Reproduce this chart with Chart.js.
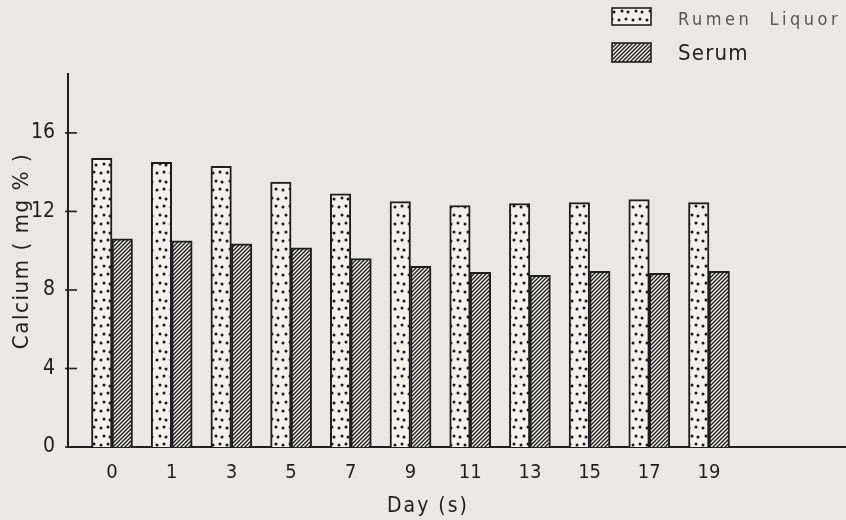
<!DOCTYPE html>
<html>
<head>
<meta charset="utf-8">
<script src="https://cdn.jsdelivr.net/npm/chart.js@4.4.1/dist/chart.umd.min.js"></script>
<style>
  html, body { margin: 0; padding: 0; background: #e9e8e4; }
  #wrap { width: 846px; height: 520px; position: relative; }
</style>
</head>
<body>
<div id="wrap"><canvas id="calciumChart"></canvas></div>
<script>
// Calcium in rumen liquor and serum by day
const days = ['0', '1', '3', '5', '7', '9', '11', '13', '15', '17', '19'];
const rumenLiquor = [14.7, 14.5, 14.3, 13.5, 12.9, 12.5, 12.3, 12.4, 12.45, 12.6, 12.45];
const serum = [10.6, 10.5, 10.35, 10.15, 9.6, 9.2, 8.9, 8.75, 8.95, 8.85, 8.95];
const yTicks = [0, 4, 8, 12, 16];
const xTitle = 'Day (s)';
const yTitle = 'Calcium ( mg % )';

const FONT = "'Liberation Sans Narrow', 'DejaVu Sans Condensed', 'DejaVu Sans', sans-serif";
const INK = '#1e1e1e';

// dotted fill for rumen liquor
function makeDots() {
    const c = document.createElement('canvas');
    c.width = 14; c.height = 17;
    const g = c.getContext('2d');
    g.fillStyle = '#f1f0ec';
    g.fillRect(0, 0, 14, 17);
    g.fillStyle = '#151515';
    [[3, 3], [10, 2], [6, 11], [12, 12]].forEach(([x, y]) => {
        g.beginPath();
        g.arc(x, y, 1.5, 0, Math.PI * 2);
        g.fill();
    });
    return g.createPattern(c, 'repeat');
}

// diagonal hatch for serum
function makeHatch() {
    const s = 4;
    const c = document.createElement('canvas');
    c.width = s; c.height = s;
    const g = c.getContext('2d');
    g.fillStyle = '#ecebe7';
    g.fillRect(0, 0, s, s);
    g.strokeStyle = '#1c1c1c';
    g.lineWidth = 1.3;
    g.beginPath();
    g.moveTo(-1, s + 1); g.lineTo(s + 1, -1);
    g.moveTo(-1, 1); g.lineTo(1, -1);
    g.moveTo(s - 1, s + 1); g.lineTo(s + 1, s - 1);
    g.stroke();
    return g.createPattern(c, 'repeat');
}

const dots = makeDots();
const hatch = makeHatch();

// inward y ticks, spaced axis titles and the legend at top right
const extras = {
    id: 'extras',
    afterDraw(chart) {
        const ctx = chart.ctx;
        const y = chart.scales.y;
        ctx.save();
        ctx.strokeStyle = INK;
        ctx.lineWidth = 1.6;
        y.ticks.forEach(t => {
            const py = y.getPixelForValue(t.value);
            ctx.beginPath();
            ctx.moveTo(y.right - 3, py);
            ctx.lineTo(y.right + 9, py);
            ctx.stroke();
        });

        // axis titles
        ctx.fillStyle = INK;
        ctx.textAlign = 'center';
        ctx.textBaseline = 'middle';
        ctx.font = '21px ' + FONT;
        ctx.letterSpacing = '2px';
        ctx.fillText(xTitle, 428, 507);
        ctx.save();
        ctx.translate(22, 251);
        ctx.rotate(-Math.PI / 2);
        ctx.font = '22px ' + FONT;
        ctx.letterSpacing = '1.6px';
        ctx.fillText(yTitle, 0, 0);
        ctx.restore();

        const rows = [
            { boxY: 8, boxH: 17, textY: 20, font: '18px ' + FONT, color: '#555', spacing: '3.5px' },
            { boxY: 43, boxH: 19, textY: 54, font: '22px ' + FONT, color: '#222', spacing: '1.2px' }
        ];
        chart.data.datasets.forEach((ds, i) => {
            const r = rows[i];
            ctx.fillStyle = ds.backgroundColor;
            ctx.fillRect(612, r.boxY, 39, r.boxH);
            ctx.lineWidth = 1.6;
            ctx.strokeStyle = INK;
            ctx.strokeRect(612, r.boxY, 39, r.boxH);
            ctx.fillStyle = r.color;
            ctx.font = r.font;
            ctx.letterSpacing = r.spacing;
            ctx.textAlign = 'left';
            ctx.fillText(ds.label, 678, r.textY);
        });
        ctx.restore();
    }
};

new Chart(document.getElementById('calciumChart'), {
    type: 'bar',
    data: {
        datasets: [
            {
                label: 'Rumen  Liquor',
                data: rumenLiquor.map((v, i) => ({ x: i, y: v })),
                backgroundColor: dots,
                borderColor: INK,
                borderWidth: 2
            },
            {
                label: 'Serum',
                data: serum.map((v, i) => ({ x: i, y: v })),
                backgroundColor: hatch,
                borderColor: INK,
                borderWidth: 2
            }
        ]
    },
    options: {
        responsive: true,
        maintainAspectRatio: false,
        animation: false,
        barThickness: 20.5,
        layout: { padding: { top: 74, right: 0, left: 0, bottom: 0 } },
        plugins: {
            legend: { display: false },
            tooltip: { enabled: false }
        },
        scales: {
            x: {
                type: 'linear',
                offset: false,
                min: -0.737,
                max: 12.295,
                afterBuildTicks: s => { s.ticks = days.map((d, i) => ({ value: i })); },
                afterFit: s => { s.height = 73; },
                grid: { display: false, offset: false },
                border: { display: true, color: INK, width: 2 },
                ticks: {
                    autoSkip: false,
                    maxRotation: 0,
                    padding: 6,
                    color: INK,
                    font: { family: FONT, size: 20 },
                    callback: (v, i) => days[i]
                }
            },
            y: {
                min: 0,
                max: 19,
                afterBuildTicks: s => { s.ticks = yTicks.map(v => ({ value: v })); },
                afterFit: s => { s.width = 68; },
                grid: { display: false },
                border: { display: true, color: INK, width: 2 },
                ticks: {
                    padding: 5,
                    color: INK,
                    font: { family: FONT, size: 21 }
                }
            }
        }
    },
    plugins: [extras]
});
</script>
</body>
</html>
